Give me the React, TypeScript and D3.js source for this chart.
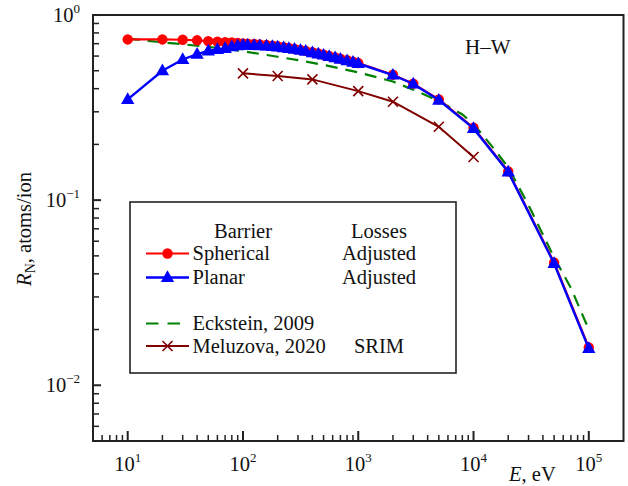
import React from 'react';
import * as d3 from 'd3';

// ---------- data ----------
const sphE = [10, 20, 30, 40, 50, 60, 70, 80, 90, 100, 110, 125, 140, 160, 180, 200, 225, 250, 280, 315, 350, 400, 450, 500, 560, 630, 700, 800, 900, 1000, 2000, 3000, 5000, 10000, 20000, 50000, 100000];
const sphR = [0.738, 0.738, 0.735, 0.73, 0.723, 0.717, 0.713, 0.71, 0.706, 0.703, 0.7, 0.697, 0.693, 0.688, 0.683, 0.678, 0.671, 0.664, 0.656, 0.648, 0.64, 0.629, 0.619, 0.61, 0.6, 0.59, 0.581, 0.57, 0.56, 0.55, 0.476, 0.426, 0.35, 0.246, 0.143, 0.046, 0.016];

const plnE = [10, 20, 30, 40, 50, 60, 70, 80, 90, 100, 110, 125, 140, 160, 180, 200, 225, 250, 280, 315, 350, 400, 450, 500, 560, 630, 700, 800, 900, 1000, 2000, 3000, 5000, 10000, 20000, 50000, 100000];
const plnR = [0.35, 0.5, 0.575, 0.615, 0.64, 0.652, 0.66, 0.674, 0.683, 0.688, 0.688, 0.686, 0.684, 0.681, 0.677, 0.673, 0.667, 0.661, 0.654, 0.646, 0.638, 0.627, 0.617, 0.608, 0.598, 0.588, 0.578, 0.567, 0.556, 0.547, 0.474, 0.424, 0.347, 0.244, 0.142, 0.0455, 0.0158];

const eckE = [10, 15, 20, 30, 50, 100, 150, 200, 300, 500, 1000, 2000, 3000, 5000, 8000, 10000, 15000, 20000, 30000, 50000, 70000, 100000];
const eckR = [0.745, 0.725, 0.712, 0.695, 0.672, 0.638, 0.612, 0.595, 0.57, 0.538, 0.49, 0.437, 0.395, 0.343, 0.29, 0.258, 0.19, 0.15, 0.094, 0.049, 0.0335, 0.02];

const melE = [100, 200, 400, 1000, 2000, 5000, 10000];
const melR = [0.484, 0.468, 0.449, 0.388, 0.34, 0.249, 0.171];

const xDecades = [1, 2, 3, 4, 5];
const yDecades = [0, -1, -2];

const FONT = "'Liberation Serif', 'Times New Roman', Times, serif";

export default function App() {
  const W = 628, H = 486;
  const L = 93, R = 623.5, T = 15, B = 441;
  const x = d3.scaleLog().domain([5, 2e5]).range([L, R]);
  const y = d3.scaleLog().domain([0.005, 1]).range([B, T]);

  const line = d3.line<[number, number]>().x(d => x(d[0])).y(d => y(d[1]));
  const zip = (a: number[], b: number[]) => a.map((v, i) => [v, b[i]] as [number, number]);

  const sph = zip(sphE, sphR);
  const pln = zip(plnE, plnR);
  const eck = zip(eckE, eckR);
  const mel = zip(melE, melR);

  const xMinor: number[] = [];
  for (let k = 0; k <= 5; k++) for (let m = 2; m <= 9; m++) {
    const v = m * Math.pow(10, k);
    if (v > 5 && v < 2e5) xMinor.push(v);
  }
  const yMinor: number[] = [];
  for (let k = -3; k <= 0; k++) for (let m = 2; m <= 9; m++) {
    const v = m * Math.pow(10, k);
    if (v > 0.005 && v < 1) yMinor.push(v);
  }

  const tri = (cx: number, cy: number, s: number) =>
    `M${cx},${cy - s * 0.62} L${cx + s * 0.58},${cy + s * 0.4} L${cx - s * 0.58},${cy + s * 0.4} Z`;
  const cross = (cx: number, cy: number, s: number) =>
    `M${cx - s},${cy - s} L${cx + s},${cy + s} M${cx - s},${cy + s} L${cx + s},${cy - s}`;

  const axisColor = '#222';
  const txt = '#111';

  return (
    <svg width={W} height={H} style={{ position: 'absolute', left: 0, top: 0, background: '#fff', fontFamily: FONT }}>
      <rect x={0} y={0} width={W} height={H} fill="#fff" />

      <rect x={L} y={T} width={R - L} height={B - T} fill="none" stroke={axisColor} strokeWidth={2} />

      {xDecades.map(k => (
        <line key={'xM' + k} x1={x(Math.pow(10, k))} x2={x(Math.pow(10, k))} y1={B} y2={B - 10} stroke={axisColor} strokeWidth={2} />
      ))}
      {xMinor.map(v => (
        <line key={'xm' + v} x1={x(v)} x2={x(v)} y1={B} y2={B - 6} stroke={axisColor} strokeWidth={1.5} />
      ))}
      {xDecades.map(k => (
        <text key={'xl' + k} x={x(Math.pow(10, k))} y={471} textAnchor="middle" fontSize={20.5} fill={txt}>
          <tspan>10</tspan>
          <tspan fontSize={13} dy={-9}>{k}</tspan>
        </text>
      ))}

      {yDecades.map(k => (
        <line key={'yM' + k} x1={L} x2={L + 8} y1={y(Math.pow(10, k))} y2={y(Math.pow(10, k))} stroke={axisColor} strokeWidth={2} />
      ))}
      {yMinor.map(v => (
        <line key={'ym' + v} x1={L} x2={L + 6} y1={y(v)} y2={y(v)} stroke={axisColor} strokeWidth={1.5} />
      ))}
      {yDecades.map(k => (
        <text key={'yl' + k} x={80} y={y(Math.pow(10, k)) + 7} textAnchor="end" fontSize={20.5} fill={txt}>
          <tspan>10</tspan>
          <tspan fontSize={13} dy={-9}>{k === 0 ? '0' : '\u2212' + Math.abs(k)}</tspan>
        </text>
      ))}

      <text x={509} y={481} fontSize={20.5} fill={txt}>
        <tspan fontStyle="italic">E</tspan>
        <tspan>, eV</tspan>
      </text>
      <text transform="translate(31,229) rotate(-90)" textAnchor="middle" fontSize={20.5} fill={txt}>
        <tspan fontStyle="italic">R</tspan>
        <tspan fontSize={14} dy={4}>N</tspan>
        <tspan dy={-4}>, atoms/ion</tspan>
      </text>

      <text x={465} y={54} fontSize={21} fill={txt}>H–W</text>

      <path d={line(eck) || ''} fill="none" stroke="#008000" strokeWidth={2.2} strokeDasharray="12,8" />
      <path d={line(mel) || ''} fill="none" stroke="#800000" strokeWidth={2} />
      {mel.map((d, i) => (
        <path key={'mx' + i} d={cross(x(d[0]), y(d[1]), 5)} stroke="#800000" strokeWidth={1.6} fill="none" />
      ))}
      <path d={line(sph) || ''} fill="none" stroke="#ff0000" strokeWidth={2.2} />
      {sph.map((d, i) => (
        <circle key={'sc' + i} cx={x(d[0])} cy={y(d[1])} r={5.2} fill="#ff0000" />
      ))}
      <path d={line(pln) || ''} fill="none" stroke="#0000ff" strokeWidth={2.4} />
      {pln.map((d, i) => (
        <path key={'pt' + i} d={tri(x(d[0]), y(d[1]), 11.5)} fill="#0000ff" />
      ))}

      <rect x={130} y={202} width={326} height={171} fill="#fff" stroke={axisColor} strokeWidth={1.6} />
      <text x={243} y={238} textAnchor="middle" fontSize={20.5} fill={txt}>Barrier</text>
      <text x={379} y={238} textAnchor="middle" fontSize={20.5} fill={txt}>Losses</text>

      <line x1={146} x2={189} y1={253.5} y2={253.5} stroke="#ff0000" strokeWidth={2.2} />
      <circle cx={167.5} cy={253.5} r={5.2} fill="#ff0000" />
      <text x={192.5} y={260} fontSize={20.5} fill={txt}>Spherical</text>
      <text x={379} y={260} textAnchor="middle" fontSize={20.5} fill={txt}>Adjusted</text>

      <line x1={146} x2={189} y1={277.5} y2={277.5} stroke="#0000ff" strokeWidth={2.4} />
      <path d={tri(167.5, 277.5, 11.5)} fill="#0000ff" />
      <text x={192.5} y={284} fontSize={20.5} fill={txt}>Planar</text>
      <text x={379} y={284} textAnchor="middle" fontSize={20.5} fill={txt}>Adjusted</text>

      <line x1={146} x2={189} y1={323.5} y2={323.5} stroke="#008000" strokeWidth={2.2} strokeDasharray="12.5,9" />
      <text x={192.5} y={330} fontSize={20.5} fill={txt}>Eckstein, 2009</text>

      <line x1={146} x2={189} y1={346} y2={346} stroke="#800000" strokeWidth={2} />
      <path d={cross(167.5, 346, 5)} stroke="#800000" strokeWidth={1.6} fill="none" />
      <text x={192.5} y={352.5} fontSize={20.5} fill={txt}>Meluzova, 2020</text>
      <text x={379} y={352.5} textAnchor="middle" fontSize={20.5} fill={txt}>SRIM</text>
    </svg>
  );
}
